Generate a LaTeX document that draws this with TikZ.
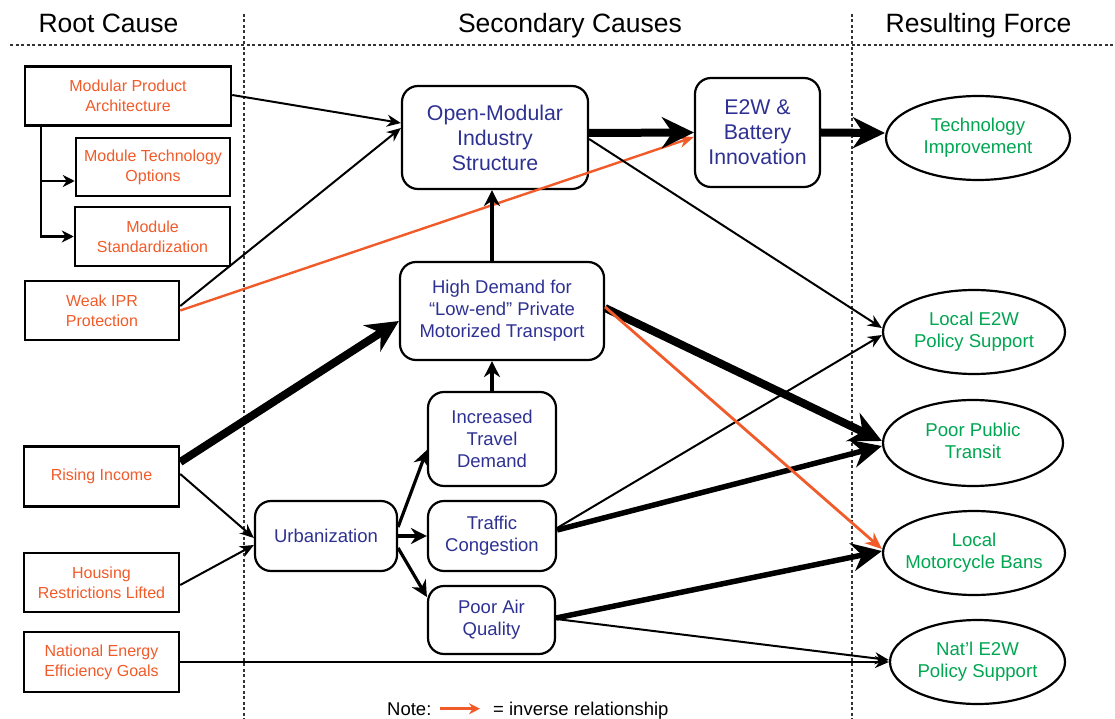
\documentclass[tikz,border=0pt]{standalone}
\usepackage{fontspec}
\setmainfont{Liberation Sans}
\usetikzlibrary{arrows.meta,shapes.geometric}
\definecolor{orangeC}{RGB}{241,90,41}
\definecolor{blueC}{RGB}{46,49,146}
\definecolor{greenC}{RGB}{0,166,81}
\newcommand\ctrlines[1]{\makebox[0pt]{\begin{tabular}{@{}c@{}}#1\end{tabular}}}
\begin{document}
\begin{tikzpicture}[x=1pt,y=-1pt,
  rootbox/.style={draw, line width=2.5pt, rectangle, inner sep=0pt, align=center,
    text=orangeC, font=\fontsize{16}{20}\selectfont},
  secbox/.style={draw, line width=2.2pt, rounded corners=16pt, inner sep=0pt, align=center,
    text=blueC, font=\fontsize{18.5}{22}\selectfont},
  bigsec/.style={secbox, font=\fontsize{21.3}{25}\selectfont},
  resell/.style={ellipse, draw, line width=2.2pt, inner sep=0pt, text=greenC,
    font=\fontsize{18.6}{22.4}\selectfont},
  titletext/.style={anchor=base, inner sep=0pt, font=\fontsize{26.5}{30}\selectfont},
  notetext/.style={anchor=base west, inner sep=0pt, font=\fontsize{18.5}{22}\selectfont},
  dashline/.style={line width=1.1pt, dash pattern=on 3pt off 2.5pt, black!80},
  thinA/.style={line width=2pt, -{Stealth[length=14pt,width=12pt]}},
  elbowA/.style={line width=2.5pt, -{Stealth[length=12pt,width=12pt]}},
  medA/.style={line width=3.2pt, -{Stealth[length=16pt,width=16pt]}},
  thickA/.style={line width=5.5pt, -{Stealth[length=30pt,width=28pt]}},
  vthickA/.style={line width=8pt, -{Stealth[length=32pt,width=31pt]}},
  orangeA/.style={orangeC, line width=2.4pt, -{Stealth[length=15pt,width=12pt]}},
  orangeB/.style={orangeC, line width=2.8pt, -{Stealth[length=17pt,width=14pt]}},
]
\useasboundingbox (0,0) rectangle (1115,719);

% titles
\node[titletext] (t1) at (108.5,33) {Root Cause};
\node[titletext] (t2) at (570,33) {Secondary Causes};
\node[titletext] (t3) at (978.5,33) {Resulting Force};

% dashed separators
\draw[dashline] (10,45) -- (1115,45);
\draw[dashline] (244,14) -- (244,719);
\draw[dashline] (852,14) -- (852,719);

% root causes
\node[rootbox, minimum width=206pt, minimum height=59pt] (mpa) at (128,96) {Modular Product\\Architecture};
\node[rootbox, minimum width=154pt, minimum height=58pt] (mto) at (153,167) {Module Technology\\Options};
\node[rootbox, minimum width=155pt, minimum height=59pt] (ms) at (152.5,236.5) {Module\\Standardization};
\node[rootbox, minimum width=154pt, minimum height=59pt] (ipr) at (102,310.5) {Weak IPR\\Protection};
\node[rootbox, minimum width=155pt, minimum height=60pt] (ri) at (101.5,476.5) {Rising Income};
\node[rootbox, minimum width=155pt, minimum height=59pt] (hrl) at (101.5,582.5) {Housing\\Restrictions Lifted};
\node[rootbox, minimum width=155pt, minimum height=60pt] (neeg) at (101.5,662) {National Energy\\Efficiency Goals};

% secondary causes
\node[bigsec, minimum width=186pt, minimum height=103pt] (omis) at (495,137.5) {Open-Modular\\Industry\\Structure};
\node[bigsec, minimum width=125pt, minimum height=109pt] (e2w) at (757.5,132.5) {E2W \&\\Battery\\Innovation};
\node[secbox, minimum width=204pt, minimum height=98pt] (hd) at (502,311) {High Demand for\\“Low-end” Private\\Motorized Transport};
\node[secbox, minimum width=128pt, minimum height=94pt] (itd) at (492,439) {Increased\\Travel\\Demand};
\node[secbox, minimum width=128pt, minimum height=70pt] (tc) at (492,536) {Traffic\\Congestion};
\node[secbox, minimum width=127pt, minimum height=68pt] (paq) at (491.5,620) {Poor Air\\Quality};
\node[secbox, minimum width=142pt, minimum height=70pt] (urb) at (326,536) {Urbanization};

% resulting forces
\node[resell, minimum width=184pt, minimum height=84pt] (ti) at (978,138) {\ctrlines{Technology\\Improvement}};
\node[resell, minimum width=182pt, minimum height=84pt] (le2w) at (974,332) {\ctrlines{Local E2W\\Policy Support}};
\node[resell, minimum width=180pt, minimum height=86pt] (ppt) at (973,443) {\ctrlines{Poor Public\\Transit}};
\node[resell, minimum width=182pt, minimum height=84pt] (lmb) at (974,553) {\ctrlines{Local\\Motorcycle Bans}};
\node[resell, minimum width=175pt, minimum height=84pt] (ne2w) at (977.5,662) {\ctrlines{Nat’l E2W\\Policy Support}};

% connectors: root causes
\draw[elbowA] ([xshift=17pt]mpa.south west) |- ([yshift=-14pt]mto.west);
\draw[elbowA] ([xshift=17pt]mpa.south west) |- (ms.west);
\draw[thinA] ([yshift=1pt]mpa.east) -- ([yshift=14.5pt]omis.west);
\draw[thinA] ([yshift=4.5pt]ipr.east) -- ([yshift=9.5pt]omis.west);
\draw[orangeA] (ipr.east) -- ([yshift=-4.5pt]e2w.west);
\draw[vthickA] ([yshift=14.5pt]ri.east) -- ([yshift=-10pt]hd.west);
\draw[thinA] ([yshift=2.5pt]ri.east) -- ([yshift=-2pt]urb.west);
\draw[thinA] ([yshift=-2.5pt]hrl.east) -- ([yshift=-9pt]urb.west);
\draw[line width=2.6pt, -{Stealth[length=14pt,width=12pt]}] (neeg.east) -- (neeg.east -| ne2w.west);

% connectors: secondary causes
\draw[vthickA] ([yshift=4.5pt]omis.east) -- (e2w.west);
\draw[vthickA] (e2w.east) -- ([yshift=5pt]ti.west);
\draw[thinA] ([yshift=-1.5pt]omis.east) -- ([yshift=4pt]le2w.west);
\draw[medA] ([xshift=-10pt]hd.north) -- ([xshift=-3pt]omis.south);
\draw[medA] (itd.north) -- ([xshift=-10pt]hd.south);
\draw[medA] ([yshift=9pt]urb.east) -- ([yshift=-11pt]itd.west);
\draw[medA] (urb.east) -- (tc.west);
\draw[medA] ([yshift=-12pt]urb.east) -- ([yshift=23pt]paq.west);
\draw[vthickA] ([yshift=3pt]hd.east) -- ([yshift=2pt]ppt.west);
\draw[thinA] ([yshift=8pt]tc.east) -- ([yshift=-3pt]le2w.west);
\draw[thickA] ([yshift=6pt]tc.east) -- ([yshift=-3pt]ppt.west);
\draw[thickA] ([yshift=2pt]paq.east) -- ([yshift=2pt]lmb.west);
\draw[thinA] ([yshift=1pt]paq.east) -- ([yshift=2pt]ne2w.west);
\draw[orangeB] ([yshift=4pt]hd.east) -- ([yshift=4pt]lmb.west);

% note
\node[notetext] (note) at (387,715) {Note:};
\node[notetext] (inv) at (493,715) {= inverse relationship};
\draw[orangeC, line width=2.8pt, -{Stealth[length=11pt,width=11pt]}] ([xshift=8pt]note.east) -- ([xshift=-13pt]note.east -| inv.west);
\end{tikzpicture}
\end{document}
